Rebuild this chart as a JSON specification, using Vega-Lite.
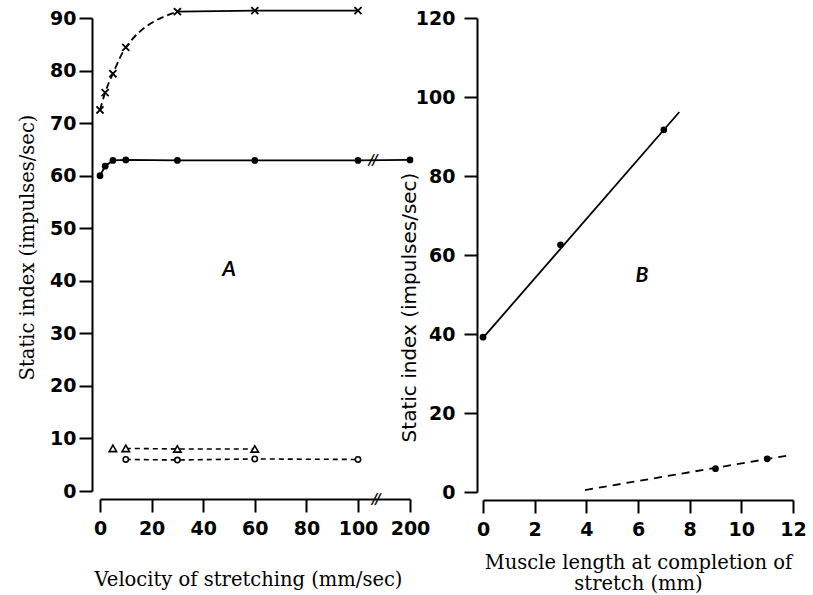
{
  "$schema": "https://vega.github.io/schema/vega-lite/v6.json",
  "padding": {"left": 17, "top": 3, "right": 5, "bottom": 5},
  "background": "white",
  "spacing": 73,
  "bounds": "flush",
  "config": {
    "view": {"stroke": null},
    "axis": {
      "grid": false, "domainColor": "black", "domainWidth": 2, "tickColor": "black", "tickWidth": 2, "tickSize": 13,
      "labelFont": "DejaVu Sans", "labelFontWeight": "bold", "labelFontSize": 19, "labelColor": "black",
      "titleColor": "black", "titleFontWeight": "normal", "labelFlush": false, "labelOverlap": false
    }
  },
  "hconcat": [
    {
      "width": 310,
      "height": 473,
      "data": {"values": [
        {"series": "cross", "x": 0, "y": 72.5},
        {"series": "cross", "x": 2, "y": 75.8},
        {"series": "cross", "x": 5, "y": 79.4},
        {"series": "cross", "x": 10, "y": 84.4},
        {"series": "cross", "x": 30, "y": 91.2},
        {"series": "cross", "x": 60, "y": 91.4},
        {"series": "cross", "x": 100, "y": 91.4},
        {"series": "dot", "x": 0, "y": 60},
        {"series": "dot", "x": 2, "y": 61.8},
        {"series": "dot", "x": 5, "y": 62.9},
        {"series": "dot", "x": 10, "y": 63},
        {"series": "dot", "x": 30, "y": 62.9},
        {"series": "dot", "x": 60, "y": 62.9},
        {"series": "dot", "x": 100, "y": 62.9},
        {"series": "dot", "x": 200, "y": 63},
        {"series": "tri", "x": 5, "y": 8.1},
        {"series": "tri", "x": 10, "y": 8.1},
        {"series": "tri", "x": 30, "y": 8.0},
        {"series": "tri", "x": 60, "y": 8.0},
        {"series": "circ", "x": 10, "y": 6.0},
        {"series": "circ", "x": 30, "y": 5.9},
        {"series": "circ", "x": 60, "y": 6.1},
        {"series": "circ", "x": 100, "y": 6.0},
        {"series": "break", "x": 129, "y": 63, "label": "//"},
        {"series": "axisbreak", "x": 135, "y": 0, "label": "//"},
        {"series": "panel", "x": 50, "y": 42, "label": "A"}
      ]},
      "encoding": {
        "x": {
          "field": "x", "type": "quantitative",
          "scale": {"domain": [0, 100, 200], "range": [0, 258, 310], "nice": false, "zero": false},
          "axis": {
            "values": [0, 20, 40, 60, 80, 100, 200], "offset": 8, "labelPadding": 7,
            "title": "Velocity of stretching (mm/sec)", "titleFont": "DejaVu Serif", "titleFontSize": 19.5, "titlePadding": 32, "titleX": 148
          }
        },
        "y": {
          "field": "y", "type": "quantitative",
          "scale": {"domain": [0, 90], "nice": false},
          "axis": {
            "values": [0, 10, 20, 30, 40, 50, 60, 70, 80, 90], "offset": 8, "labelPadding": 3,
            "title": "Static index (impulses/sec)", "titleFont": "DejaVu Serif", "titleFontSize": 19.5, "titlePadding": 12, "titleY": 229
          }
        }
      },
      "layer": [
        {"transform": [{"filter": "datum.series == 'cross' && datum.x <= 30"}],
         "mark": {"type": "line", "color": "black", "strokeWidth": 1.8, "strokeDash": [7, 4], "interpolate": "monotone"}},
        {"transform": [{"filter": "datum.series == 'cross' && datum.x >= 30"}],
         "mark": {"type": "line", "color": "black", "strokeWidth": 1.8}},
        {"transform": [{"filter": "datum.series == 'cross'"}],
         "mark": {"type": "point", "shape": "M -1 -1 L 1 1 M -1 1 L 1 -1", "size": 50, "filled": false, "color": "black", "strokeWidth": 1.8, "opacity": 1}},
        {"transform": [{"filter": "datum.series == 'dot'"}],
         "mark": {"type": "line", "color": "black", "strokeWidth": 1.8}},
        {"transform": [{"filter": "datum.series == 'dot'"}],
         "mark": {"type": "point", "shape": "circle", "size": 45, "filled": true, "color": "black", "opacity": 1}},
        {"transform": [{"filter": "datum.series == 'tri' && datum.x >= 10"}],
         "mark": {"type": "line", "color": "black", "strokeWidth": 1.6, "strokeDash": [5, 4]}},
        {"transform": [{"filter": "datum.series == 'tri'"}],
         "mark": {"type": "point", "shape": "triangle-up", "size": 55, "filled": true, "fill": "white", "stroke": "black", "strokeWidth": 1.6, "opacity": 1}},
        {"transform": [{"filter": "datum.series == 'circ'"}],
         "mark": {"type": "line", "color": "black", "strokeWidth": 1.6, "strokeDash": [5, 4]}},
        {"transform": [{"filter": "datum.series == 'circ'"}],
         "mark": {"type": "point", "shape": "circle", "size": 28, "filled": true, "fill": "white", "stroke": "black", "strokeWidth": 1.6, "opacity": 1}},
        {"transform": [{"filter": "datum.series == 'break'"}],
         "mark": {"type": "text", "font": "Lato", "fontSize": 16, "fontWeight": "bold", "fontStyle": "italic", "color": "black"},
         "encoding": {"text": {"field": "label"}}},
        {"transform": [{"filter": "datum.series == 'axisbreak'"}],
         "mark": {"type": "text", "font": "Lato", "fontSize": 16, "fontWeight": "bold", "fontStyle": "italic", "color": "black", "dy": 8},
         "encoding": {"text": {"field": "label"}}},
        {"transform": [{"filter": "datum.series == 'panel'"}],
         "mark": {"type": "text", "font": "Lato", "fontSize": 21, "fontWeight": "bold", "fontStyle": "italic", "color": "black"},
         "encoding": {"text": {"field": "label"}}}
      ]
    },
    {
      "width": 310,
      "height": 474,
      "data": {"values": [
        {"series": "pt", "x": 0, "y": 39.2},
        {"series": "pt", "x": 3, "y": 62.6},
        {"series": "pt", "x": 7, "y": 91.7},
        {"series": "pt", "x": 9, "y": 5.9},
        {"series": "pt", "x": 11, "y": 8.4},
        {"series": "fit1", "x": 0, "y": 39},
        {"series": "fit1", "x": 7.6, "y": 96.2},
        {"series": "fit2", "x": 3.95, "y": 0.5},
        {"series": "fit2", "x": 11.95, "y": 9.4},
        {"series": "panel", "x": 6.15, "y": 54.7, "label": "B"}
      ]},
      "encoding": {
        "x": {
          "field": "x", "type": "quantitative",
          "scale": {"domain": [0, 12], "nice": false, "zero": false},
          "axis": {
            "values": [0, 2, 4, 6, 8, 10, 12], "offset": 8, "labelPadding": 7,
            "title": ["Muscle length at completion of", "stretch (mm)"], "titleFont": "DejaVu Serif", "titleFontSize": 19.5,
            "titleLineHeight": 21, "titlePadding": 14
          }
        },
        "y": {
          "field": "y", "type": "quantitative",
          "scale": {"domain": [0, 120], "nice": false},
          "axis": {
            "values": [0, 20, 40, 60, 80, 100, 120], "offset": 6, "labelPadding": 9,
            "title": "Static index (impulses/sec)", "titleFont": "DejaVu Sans", "titleFontSize": 20, "titleFontWeight": "normal", "titlePadding": -4, "titleY": 289
          }
        }
      },
      "layer": [
        {"transform": [{"filter": "datum.series == 'fit1'"}],
         "mark": {"type": "line", "color": "black", "strokeWidth": 1.8}},
        {"transform": [{"filter": "datum.series == 'fit2'"}],
         "mark": {"type": "line", "color": "black", "strokeWidth": 1.8, "strokeDash": [8, 6]}},
        {"transform": [{"filter": "datum.series == 'pt'"}],
         "mark": {"type": "point", "shape": "circle", "size": 45, "filled": true, "color": "black", "opacity": 1}},
        {"transform": [{"filter": "datum.series == 'panel'"}],
         "mark": {"type": "text", "font": "Lato", "fontSize": 21, "fontWeight": "bold", "fontStyle": "italic", "color": "black"},
         "encoding": {"text": {"field": "label"}}}
      ]
    }
  ]
}
